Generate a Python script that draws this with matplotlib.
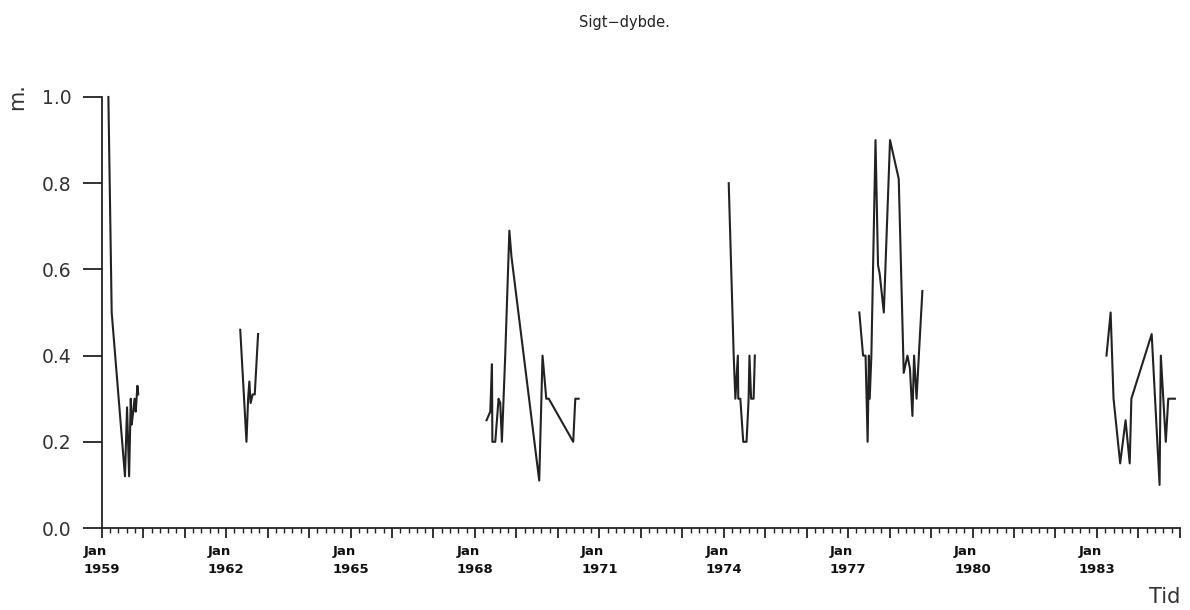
import numpy as np
import matplotlib.pyplot as plt
from matplotlib.ticker import FixedLocator, MultipleLocator

# Sigt-dybde (m), measuring periods as decimal years
t_1959 = [1959.16, 1959.24, 1959.56, 1959.61, 1959.66, 1959.70, 1959.72, 1959.76,
          1959.79, 1959.82, 1959.86, 1959.88]
v_1959 = [1.00, 0.50, 0.12, 0.28, 0.12, 0.30, 0.24, 0.27, 0.30, 0.27, 0.33, 0.31]

t_1962 = [1962.34, 1962.49, 1962.53, 1962.56, 1962.59, 1962.64, 1962.69, 1962.77]
v_1962 = [0.46, 0.20, 0.30, 0.34, 0.29, 0.31, 0.31, 0.45]

t_1968 = [1968.28, 1968.37, 1968.41, 1968.42, 1968.49, 1968.57, 1968.61, 1968.65,
          1968.73, 1968.83, 1968.88, 1969.55, 1969.63, 1969.72, 1969.78, 1970.37,
          1970.42, 1970.50]
v_1968 = [0.25, 0.27, 0.38, 0.20, 0.20, 0.30, 0.29, 0.20, 0.40, 0.69, 0.63, 0.11,
          0.40, 0.30, 0.30, 0.20, 0.30, 0.30]

t_1974 = [1974.12, 1974.24, 1974.28, 1974.34, 1974.35, 1974.40, 1974.47, 1974.55,
          1974.60, 1974.62, 1974.66, 1974.72, 1974.75]
v_1974 = [0.80, 0.40, 0.30, 0.40, 0.30, 0.30, 0.20, 0.20, 0.30, 0.40, 0.30, 0.30, 0.40]

t_1977 = [1977.27, 1977.36, 1977.42, 1977.47, 1977.50, 1977.52, 1977.56, 1977.66,
          1977.72, 1977.76, 1977.86, 1978.01, 1978.22, 1978.34, 1978.43, 1978.49,
          1978.55, 1978.59, 1978.65, 1978.71, 1978.79]
v_1977 = [0.50, 0.40, 0.40, 0.20, 0.40, 0.30, 0.40, 0.90, 0.61, 0.59, 0.50, 0.90,
          0.81, 0.36, 0.40, 0.37, 0.26, 0.40, 0.30, 0.41, 0.55]

t_1983 = [1983.23, 1983.33, 1983.40, 1983.56, 1983.69, 1983.79, 1983.83, 1984.32,
          1984.51, 1984.54, 1984.66, 1984.72, 1984.88]
v_1983 = [0.40, 0.50, 0.30, 0.15, 0.25, 0.15, 0.30, 0.45, 0.10, 0.40, 0.20, 0.30, 0.30]

segments = [(t_1959, v_1959), (t_1962, v_1962), (t_1968, v_1968),
            (t_1974, v_1974), (t_1977, v_1977), (t_1983, v_1983)]

years = list(range(1959, 1986))
label_years = list(range(1959, 1986, 3))
y_ticks = [0.0, 0.2, 0.4, 0.6, 0.8, 1.0]

ink = '#222222'

fig = plt.figure(figsize=(11.9, 6.1), dpi=100)
ax = fig.add_axes([0.0855, 0.1344, 0.906, 0.7066])

for t, v in segments:
    ax.plot(t, v, color=ink, lw=1.5, clip_on=False)

ax.set_xlim(1959, 1985)
ax.set_ylim(0, 1)

for side in ['top', 'right']:
    ax.spines[side].set_visible(False)
for side in ['left', 'bottom']:
    ax.spines[side].set_color(ink)
    ax.spines[side].set_linewidth(1.3)

# x axis: a tick each year, labels every third year, small ticks in between
ax.xaxis.set_major_locator(FixedLocator(years))
ax.set_xticklabels(['Jan\n%d' % y if y in label_years else '' for y in years],
                   fontsize=9.5, fontweight='bold', color='#111111',
                   multialignment='left', linespacing=1.5)
ax.xaxis.set_minor_locator(MultipleLocator(0.2))
ax.tick_params(axis='x', which='major', length=7, width=1.3, color=ink, pad=5)
ax.tick_params(axis='x', which='minor', length=3.5, width=1.0, color=ink)

ax.set_yticks(y_ticks)
ax.set_yticklabels(['%.1f' % y for y in y_ticks], fontsize=13.5, color='#333333')
ax.tick_params(axis='y', which='major', length=14, width=1.3, color=ink, pad=8)

fig.text(0.525, 1 - 22 / 610, 'Sigt\u2212dybde.', ha='center', va='center',
         fontsize=10.5, color=ink)
fig.text(17 / 1190, 1 - 97 / 610, 'm.', rotation=90, ha='center', va='center',
         fontsize=15, color='#333333')
fig.text(1165 / 1190, 1 - 597 / 610, 'Tid', ha='center', va='center',
         fontsize=15, color='#333333')

fig.savefig('out.png', dpi=100, facecolor='white')
